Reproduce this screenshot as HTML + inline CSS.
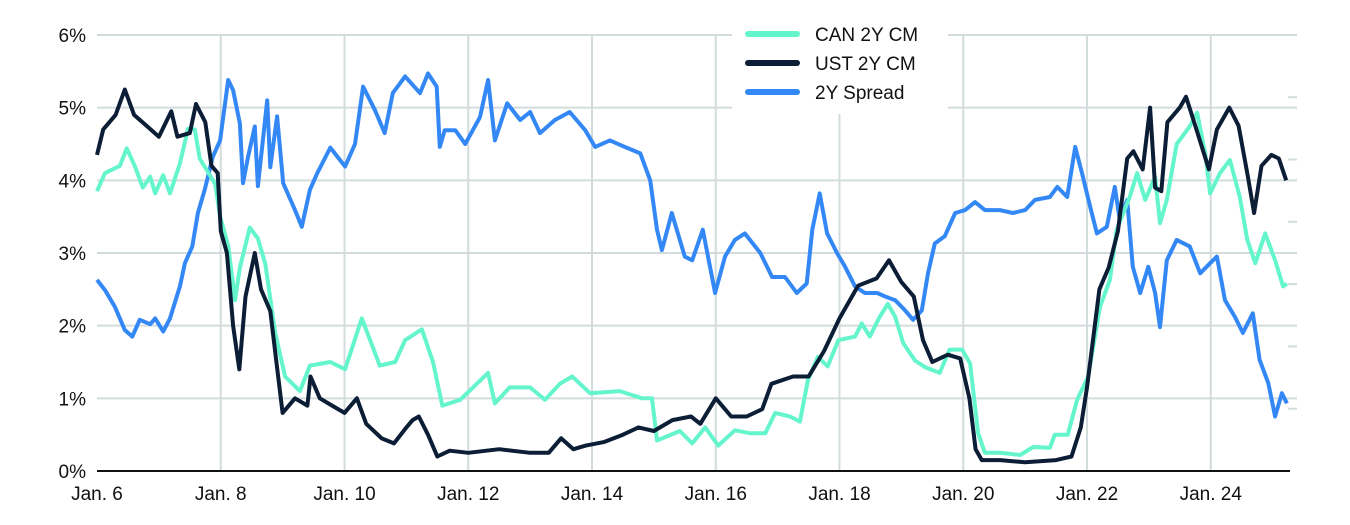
<!DOCTYPE html>
<html><head><meta charset="utf-8"><style>
html,body{margin:0;padding:0;background:#fff;}
svg{display:block;font-family:"Liberation Sans",sans-serif;}
</style></head><body>
<svg id="chart" width="1350" height="525" viewBox="0 0 1350 525" xmlns="http://www.w3.org/2000/svg">
<g id="grid"></g>
<g id="series"></g>
<g id="axes"></g>
<g>
<rect x="732" y="18" width="216" height="96" fill="#fff"/>
<g><line x1="748" y1="34" x2="797" y2="34" stroke="#64f5cc" stroke-width="6" stroke-linecap="round"/><text x="815" y="41" font-size="19" fill="#111">CAN 2Y CM</text></g>
<g><line x1="748" y1="63" x2="797" y2="63" stroke="#0c1d36" stroke-width="6" stroke-linecap="round"/><text x="815" y="70" font-size="19" fill="#111">UST 2Y CM</text></g>
<g><line x1="748" y1="92" x2="797" y2="92" stroke="#3388f5" stroke-width="6" stroke-linecap="round"/><text x="815" y="99" font-size="19" fill="#111">2Y Spread</text></g>
</g>
</svg>
<script>
const yTicks=[0,1,2,3,4,5,6];
const yTickLabels=["0%","1%","2%","3%","4%","5%","6%"];
const xTicks=[0,2,4,6,8,10,12,14,16,18];
const xTickLabels=["Jan. 6","Jan. 8","Jan. 10","Jan. 12","Jan. 14","Jan. 16","Jan. 18","Jan. 20","Jan. 22","Jan. 24"];
const rightTicks=[1,2,3,4,5,6];
// years since Jan 2006
const ustT=[0,0.1,0.3,0.45,0.6,0.8,1.0,1.2,1.3,1.5,1.6,1.75,1.85,1.95,2.0,2.1,2.2,2.3,2.4,2.55,2.65,2.8,2.9,3.0,3.2,3.4,3.45,3.6,3.8,4.0,4.2,4.35,4.6,4.8,5.0,5.1,5.2,5.35,5.5,5.7,6.0,6.5,7.0,7.3,7.5,7.7,7.9,8.2,8.5,8.75,9.0,9.3,9.6,9.75,10.0,10.25,10.5,10.75,10.9,11.25,11.5,11.75,12.0,12.3,12.6,12.8,13.0,13.2,13.35,13.5,13.75,13.95,14.1,14.2,14.3,14.6,15.0,15.5,15.75,15.9,16.0,16.2,16.35,16.5,16.65,16.75,16.9,17.02,17.1,17.2,17.3,17.5,17.6,17.75,17.97,18.1,18.3,18.45,18.6,18.7,18.82,18.98,19.1,19.22];
const ustV=[4.35,4.7,4.9,5.25,4.9,4.75,4.6,4.95,4.6,4.65,5.05,4.8,4.2,4.1,3.3,3.0,2.0,1.4,2.4,3.0,2.5,2.2,1.5,0.8,1.0,0.9,1.3,1.0,0.9,0.8,1.0,0.65,0.45,0.38,0.6,0.7,0.75,0.5,0.2,0.28,0.25,0.3,0.25,0.25,0.45,0.3,0.35,0.4,0.5,0.6,0.55,0.7,0.75,0.65,1.0,0.75,0.75,0.85,1.2,1.3,1.3,1.65,2.1,2.55,2.65,2.9,2.6,2.4,1.8,1.5,1.6,1.55,1.0,0.3,0.15,0.15,0.12,0.15,0.2,0.6,1.15,2.5,2.8,3.3,4.3,4.4,4.15,5.0,3.9,3.85,4.8,5.0,5.15,4.75,4.15,4.7,5.0,4.75,4.05,3.55,4.2,4.35,4.3,4.0];
const canT=[0,0.13,0.37,0.48,0.61,0.74,0.86,0.94,1.07,1.18,1.34,1.47,1.58,1.66,1.91,1.99,2.12,2.23,2.31,2.47,2.60,2.72,2.88,3.04,3.28,3.44,3.77,4.01,4.28,4.57,4.82,4.98,5.25,5.43,5.58,5.87,6.32,6.43,6.67,7.00,7.24,7.48,7.68,7.97,8.45,8.81,8.97,9.05,9.42,9.62,9.83,10.04,10.31,10.55,10.80,10.96,11.20,11.36,11.49,11.65,11.81,11.98,12.25,12.36,12.49,12.65,12.78,12.90,13.03,13.22,13.38,13.62,13.78,13.98,14.11,14.24,14.35,14.59,14.92,15.13,15.40,15.48,15.69,15.84,16.02,16.21,16.37,16.48,16.69,16.81,16.94,17.10,17.18,17.29,17.45,17.66,17.78,17.91,17.99,18.15,18.31,18.47,18.59,18.72,18.88,19.04,19.17,19.23];
const canV=[3.85,4.1,4.2,4.44,4.2,3.9,4.05,3.82,4.07,3.82,4.23,4.71,4.7,4.3,3.95,3.5,3.1,2.35,2.8,3.35,3.2,2.85,1.9,1.3,1.1,1.45,1.5,1.4,2.1,1.45,1.5,1.8,1.95,1.5,0.9,0.98,1.35,0.93,1.15,1.15,0.98,1.2,1.3,1.07,1.1,1.0,1.0,0.42,0.55,0.38,0.6,0.35,0.56,0.52,0.52,0.8,0.75,0.68,1.25,1.57,1.44,1.8,1.85,2.03,1.85,2.12,2.3,2.12,1.76,1.52,1.43,1.35,1.67,1.67,1.48,0.52,0.25,0.25,0.22,0.33,0.32,0.5,0.5,0.98,1.3,2.26,2.63,3.32,3.77,4.1,3.73,4.05,3.41,3.73,4.5,4.74,4.93,4.37,3.82,4.1,4.28,3.77,3.18,2.86,3.27,2.9,2.54,2.58];
const sprT=[0,0.13,0.29,0.45,0.57,0.69,0.86,0.94,1.07,1.18,1.34,1.42,1.54,1.63,1.74,1.87,1.99,2.12,2.20,2.31,2.36,2.44,2.55,2.60,2.75,2.80,2.91,3.01,3.20,3.31,3.44,3.56,3.77,4.01,4.17,4.30,4.49,4.65,4.78,4.98,5.22,5.35,5.49,5.54,5.62,5.79,5.95,6.19,6.32,6.43,6.63,6.84,7.00,7.16,7.40,7.64,7.89,8.05,8.29,8.53,8.78,8.94,9.05,9.13,9.29,9.50,9.62,9.79,9.99,10.15,10.31,10.47,10.72,10.91,11.12,11.31,11.47,11.56,11.68,11.80,11.96,12.09,12.25,12.41,12.61,12.74,12.90,13.06,13.19,13.33,13.43,13.54,13.70,13.87,14.03,14.19,14.35,14.59,14.80,15.00,15.16,15.40,15.52,15.68,15.81,15.92,16.05,16.16,16.32,16.45,16.53,16.65,16.74,16.86,16.99,17.10,17.18,17.29,17.45,17.66,17.83,17.99,18.10,18.23,18.39,18.52,18.68,18.79,18.93,19.04,19.15,19.23];
const sprV=[2.63,2.49,2.26,1.94,1.85,2.08,2.02,2.1,1.92,2.1,2.54,2.86,3.09,3.55,3.87,4.32,4.55,5.38,5.24,4.78,3.96,4.32,4.74,3.92,5.1,4.18,4.88,3.96,3.59,3.36,3.87,4.1,4.45,4.19,4.5,5.29,4.97,4.65,5.2,5.43,5.2,5.47,5.29,4.46,4.69,4.69,4.5,4.87,5.38,4.55,5.06,4.83,4.94,4.65,4.83,4.94,4.69,4.46,4.55,4.46,4.37,4.0,3.32,3.04,3.55,2.95,2.9,3.32,2.45,2.95,3.18,3.27,3.0,2.67,2.67,2.45,2.58,3.32,3.82,3.27,3.0,2.81,2.54,2.45,2.45,2.4,2.35,2.21,2.08,2.21,2.72,3.13,3.23,3.55,3.59,3.7,3.59,3.59,3.55,3.59,3.73,3.77,3.91,3.77,4.46,4.1,3.64,3.27,3.36,3.91,3.45,3.73,2.81,2.45,2.81,2.45,1.98,2.9,3.18,3.09,2.72,2.86,2.95,2.35,2.12,1.9,2.17,1.53,1.21,0.75,1.07,0.93];

const NS="http://www.w3.org/2000/svg";
const X0=97,XS=61.875,Y0=471,YS=72.67,XR=1297;
const xs=t=>X0+t*XS, ys=v=>Y0-v*YS;
function mk(tag,attrs,parent){const e=document.createElementNS(NS,tag);for(const k in attrs)e.setAttribute(k,attrs[k]);parent.appendChild(e);return e;}
const grid=document.getElementById('grid'),axes=document.getElementById('axes'),ser=document.getElementById('series');
yTicks.forEach((v,i)=>{
  if(v>0){const l=mk('line',{x1:X0,x2:XR,y1:ys(v),y2:ys(v),stroke:'#d3dcdc','stroke-width':2},grid);
  
  }
  const t=mk('text',{x:86,y:ys(v)+7,'text-anchor':'end','font-size':19,fill:'#111'},axes);
  t.textContent=yTickLabels[i];
  
  
});
xTicks.forEach((v,i)=>{
  if(v>0){const l=mk('line',{x1:xs(v),x2:xs(v),y1:ys(6),y2:Y0,stroke:'#d3dcdc','stroke-width':2},grid);
  
  }
  const t=mk('text',{x:xs(v),y:500,'text-anchor':'middle','font-size':19,fill:'#111'},axes);
  t.textContent=xTickLabels[i];
  
  
});
rightTicks.forEach(v=>{
  const l=mk('line',{x1:1288,x2:XR,y1:Y0-v*62.3,y2:Y0-v*62.3,stroke:'#d3dcdc','stroke-width':2},grid);
  
  
});
const ax=mk('line',{x1:X0,x2:1290,y1:Y0,y2:Y0,stroke:'#111','stroke-width':2},axes);


function line(T,V,color,name){
  const d=T.map((t,i)=>(i?'L':'M')+xs(t).toFixed(1)+' '+ys(V[i]).toFixed(1)).join(' ');
  const p=mk('path',{d:d,fill:'none',stroke:color,'stroke-width':4,'stroke-linejoin':'round'},ser);
  
  
}
line(sprT,sprV,'#3388f5','spread-2y-line');
line(canT,canV,'#64f5cc','can-2y-line');
line(ustT,ustV,'#0c1d36','ust-2y-line');
</script>
</body></html>
